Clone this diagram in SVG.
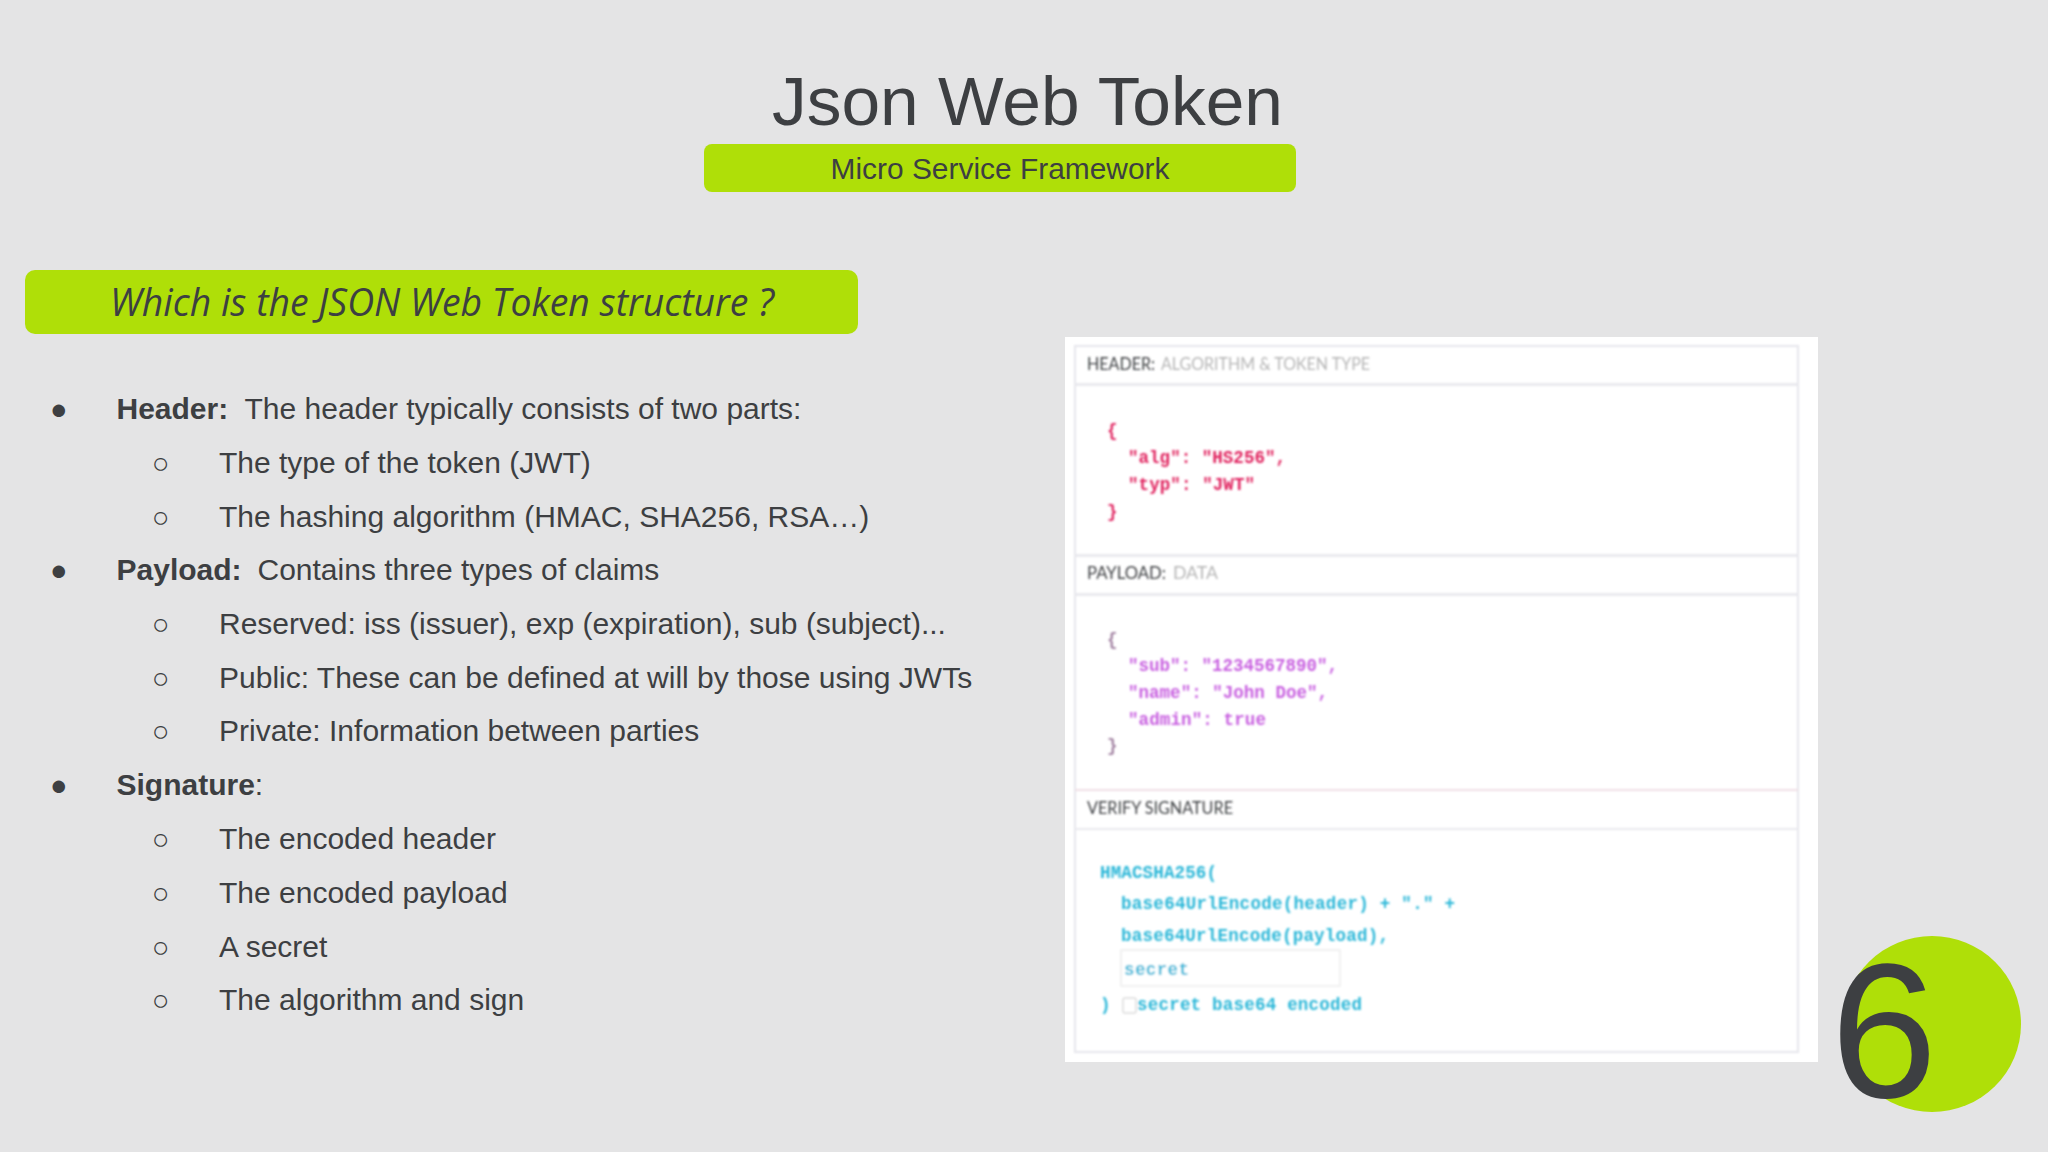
<svg xmlns="http://www.w3.org/2000/svg" width="2048" height="1152" viewBox="0 0 2048 1152">
<defs>
<style>
text{font-family:"Liberation Sans",Arial,sans-serif;fill:#3d3f42}
.b{font-size:30px}
.bb{font-weight:700}
.d{font-size:29px}
.h{font-family:"Lato","Open Sans",sans-serif;font-size:17px}
.g{fill:#b5b5b5}
.m{font-family:"Liberation Mono",monospace;font-size:17.5px;font-weight:700}
.r{fill:#e0245e}
.p{fill:#c85fe0}
.c{fill:#2cb7d8}
.ln{fill:#e9e9ee}
</style>
<filter id="blur" x="-5%" y="-5%" width="110%" height="110%"><feGaussianBlur stdDeviation="1"/></filter>
</defs>
<rect width="2048" height="1152" fill="#e4e4e5"/>
<g id="title"><text x="1027.5" y="125" font-size="68" text-anchor="middle" textLength="511" lengthAdjust="spacingAndGlyphs">Json Web Token</text></g>
<g id="subtitle"><rect x="704" y="144" width="592" height="48" rx="8" fill="#afdf08"/><text x="1000" y="179" font-size="30" text-anchor="middle" textLength="339" lengthAdjust="spacingAndGlyphs">Micro Service Framework</text></g>
<g id="question"><rect x="25" y="270" width="833" height="64" rx="10" fill="#afdf08"/><text x="110" y="316" font-size="39" font-style="italic" style="font-family:'Open Sans',sans-serif" textLength="664" lengthAdjust="spacingAndGlyphs">Which is the JSON Web Token structure ?</text></g>
<g id="bullets">
<text class="d" x="50" y="419">●</text><text class="b bb" x="116.5" y="419">Header:</text><text class="b" x="244.5" y="419">The header typically consists of two parts:</text>
<text class="d" x="152" y="473">○</text><text class="b" x="219" y="473">The type of the token (JWT)</text>
<text class="d" x="152" y="527">○</text><text class="b" x="219" y="527">The hashing algorithm (HMAC, SHA256, RSA…)</text>
<text class="d" x="50" y="580">●</text><text class="b bb" x="116.5" y="580">Payload:</text><text class="b" x="257.5" y="580">Contains three types of claims</text>
<text class="d" x="152" y="634">○</text><text class="b" x="219" y="634">Reserved: iss (issuer), exp (expiration), sub (subject)...</text>
<text class="d" x="152" y="688">○</text><text class="b" x="219" y="688">Public: These can be defined at will by those using JWTs</text>
<text class="d" x="152" y="741">○</text><text class="b" x="219" y="741">Private: Information between parties</text>
<text class="d" x="50" y="795">●</text><text class="b" x="116.5" y="795"><tspan class="bb">Signature</tspan>:</text>
<text class="d" x="152" y="849">○</text><text class="b" x="219" y="849">The encoded header</text>
<text class="d" x="152" y="903">○</text><text class="b" x="219" y="903">The encoded payload</text>
<text class="d" x="152" y="957">○</text><text class="b" x="219" y="957">A secret</text>
<text class="d" x="152" y="1010">○</text><text class="b" x="219" y="1010">The algorithm and sign</text>
</g>
<g id="jwt-image">
<rect x="1065" y="337" width="753" height="725" fill="#fff"/>
<g filter="url(#blur)">
<rect x="1075" y="346" width="723" height="706" fill="none" stroke="#e6e6ec" stroke-width="2"/>
<rect class="ln" x="1075" y="383" width="723" height="3"/>
<rect class="ln" x="1075" y="554" width="723" height="3"/>
<rect class="ln" x="1075" y="593" width="723" height="3"/>
<rect class="ln" x="1075" y="789" width="723" height="2" style="fill:#f0dfe6"/>
<rect class="ln" x="1075" y="828" width="723" height="2"/>
<text class="h" x="1087" y="370" textLength="68" lengthAdjust="spacingAndGlyphs">HEADER:</text>
<text class="h g" x="1161" y="370" textLength="209" lengthAdjust="spacingAndGlyphs">ALGORITHM &amp; TOKEN TYPE</text>
<text class="h" x="1087" y="579" textLength="79" lengthAdjust="spacingAndGlyphs">PAYLOAD:</text>
<text class="h g" x="1173" y="579" textLength="45" lengthAdjust="spacingAndGlyphs">DATA</text>
<text class="h" x="1087" y="814" textLength="146" lengthAdjust="spacingAndGlyphs">VERIFY SIGNATURE</text>
<text class="m r" x="1107" y="436">{</text>
<text class="m r" x="1128" y="463" textLength="158">"alg": "HS256",</text>
<text class="m r" x="1128" y="490" textLength="127">"typ": "JWT"</text>
<text class="m r" x="1107" y="517">}</text>
<text class="m p" x="1107" y="645" style="fill:#a080a0">{</text>
<text class="m p" x="1128" y="671" textLength="210">"sub": "1234567890",</text>
<text class="m p" x="1128" y="698" textLength="200">"name": "John Doe",</text>
<text class="m p" x="1128" y="725" textLength="138">"admin": true</text>
<text class="m p" x="1107" y="751" style="fill:#a080a0">}</text>
<text class="m c" x="1100" y="878" textLength="117">HMACSHA256(</text>
<text class="m c" x="1121" y="909" textLength="334">base64UrlEncode(header) + "." +</text>
<text class="m c" x="1121" y="941" textLength="268">base64UrlEncode(payload),</text>
<rect x="1121" y="950" width="219" height="36" fill="#fff" stroke="#ececec" stroke-width="1.5"/>
<text class="m c" x="1124" y="975" textLength="65">secret</text>
<text class="m c" x="1100" y="1010">)</text>
<rect x="1123" y="998" width="13" height="15" rx="2" fill="#fff" stroke="#dcdcdc" stroke-width="1.5"/>
<text class="m c" x="1137" y="1010" textLength="225">secret base64 encoded</text>
</g>
</g>
<g id="page-number"><ellipse cx="1932" cy="1024" rx="89" ry="88" fill="#afdf08"/><text x="1884" y="1097" font-size="192" text-anchor="middle">6</text></g>
</svg>
